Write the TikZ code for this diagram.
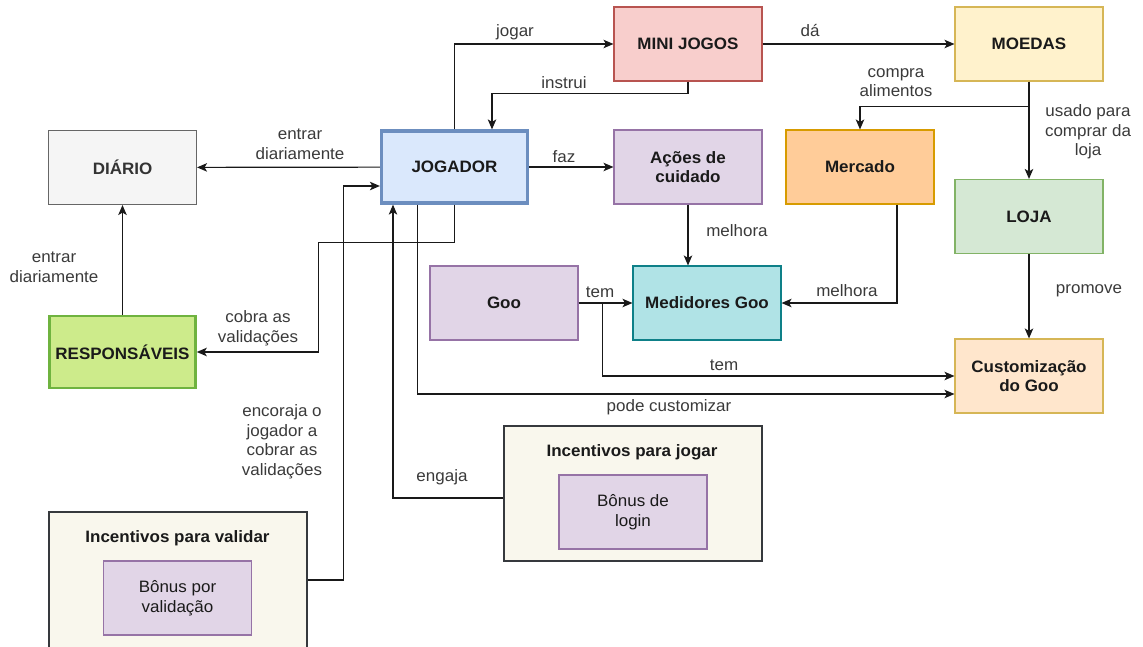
\documentclass[tikz,border=0pt]{standalone}
\usepackage{fontspec}
\setmainfont{Liberation Sans}[FakeStretch=1.03]
\usetikzlibrary{arrows.meta,calc}

\definecolor{txt}{HTML}{1A1A1A}
\definecolor{lbltxt}{HTML}{3A3A3A}
\definecolor{redf}{HTML}{F8CECC}\definecolor{redd}{HTML}{B85450}
\definecolor{yelf}{HTML}{FFF2CC}\definecolor{yeld}{HTML}{D6B656}
\definecolor{bluf}{HTML}{DAE8FC}\definecolor{blud}{HTML}{6C8EBF}
\definecolor{gryf}{HTML}{F5F5F5}\definecolor{gryd}{HTML}{666666}
\definecolor{purf}{HTML}{E1D5E7}\definecolor{purd}{HTML}{9673A6}
\definecolor{orgf}{HTML}{FFCC99}\definecolor{orgd}{HTML}{D79B00}
\definecolor{grnf}{HTML}{D5E8D4}\definecolor{grnd}{HTML}{82B366}
\definecolor{tealf}{HTML}{B0E3E6}\definecolor{teald}{HTML}{0E8088}
\definecolor{limef}{HTML}{CDEB8B}\definecolor{limed}{HTML}{6FB33F}
\definecolor{peachf}{HTML}{FFE6CC}\definecolor{peachd}{HTML}{D6B656}
\definecolor{contf}{HTML}{F9F7ED}\definecolor{contd}{HTML}{36393D}

\tikzset{
  box/.style={draw, line width=1.1pt, minimum width=148pt, minimum height=74pt,
    inner sep=0pt, align=center, text=txt,
    font=\fontsize{16.5}{19.5}\selectfont\bfseries},
  plainbox/.style={box, font=\fontsize{16.5}{19.5}\selectfont},
  container/.style={draw=contd, fill=contf, line width=1.1pt,
    minimum width=258pt, inner sep=0pt},
  ctitle/.style={inner sep=0pt, text=txt, font=\fontsize{16.5}{19.5}\selectfont\bfseries},
  lbl/.style={inner sep=0pt, align=center, text=lbltxt,
    font=\fontsize{16.5}{19.5}\selectfont},
  arr/.style={draw=black!90, line width=1.2pt,
    -{Stealth[length=10pt,width=8.5pt,inset=2.5pt]}},
}

\begin{document}
\begin{tikzpicture}[x=1pt,y=-1pt]
\path[use as bounding box] (0,0) rectangle (1143,646);
\clip (0,0) rectangle (1143,646);

% main blocks
\node[box, fill=redf, draw=redd]   (mini)   at (688,44)    {MINI JOGOS};
\node[box, fill=yelf, draw=yeld]   (moedas) at (1029,44)   {MOEDAS};
\node[box, fill=bluf, draw=blud, line width=3.2pt, minimum width=146pt, minimum height=72pt]
                                   (jog)    at (454.5,167) {JOGADOR};
\node[box, fill=gryf, draw=gryd, text=black!80] (diario) at (122.5,167.5) {DIÁRIO};
\node[box, fill=purf, draw=purd]   (acoes)  at (688,167)   {Ações de\\cuidado};
\node[box, fill=orgf, draw=orgd]   (merc)   at (860,167)   {Mercado};
\node[box, fill=grnf, draw=grnd]   (loja)   at (1029,216.5){LOJA};
\node[box, fill=purf, draw=purd]   (goo)    at (504,303)   {Goo};
\node[box, fill=tealf, draw=teald] (med)    at (707,303)   {Medidores Goo};
\node[box, fill=limef, draw=limed, line width=2.6pt, minimum width=146pt, minimum height=72pt]
                                   (resp)   at (122.5,352) {RESPONSÁVEIS};
\node[box, fill=peachf, draw=peachd] (cust) at (1029,376)  {Customização\\do Goo};

% incentive groups
\node[container, minimum height=135pt] (incj) at (633,493.5) {};
\node[ctitle] (incjt) at (632,452) {Incentivos para jogar};
\node[plainbox, fill=purf, draw=purd] (login) at (633,512) {Bônus de\\login};

\node[container, minimum height=136pt] (incv) at (178,580) {};
\node[ctitle] (incvt) at (177.5,538) {Incentivos para validar};
\node[plainbox, fill=purf, draw=purd] (bval) at (177.5,598) {Bônus por\\validação};

% connectors
\draw[arr] (jog.north) |- (mini.west);
\draw[arr] (mini.south) -- ++(0,12) -| ([xshift=37.5pt]jog.north);
\draw[arr] (mini) -- (moedas);
\draw[arr] (moedas.south) -- ++(0,25) -| (merc.north);
\draw[arr] (moedas.south) -- (moedas.south |- loja.north);
\draw[arr] (jog) -- (diario);
\draw[arr] (resp) -- (diario);
\draw[arr] (jog.south) -- ++(0,38) -| ($(resp.east)+(122,0)$) -- (resp.east);
\draw[arr] (jog) -- (acoes);
\draw[arr] (acoes.south) -- (acoes.south |- med.north);
\draw[arr] ([xshift=37pt]merc.south) |- (med.east);
\draw[arr] (goo) -- (med);
\draw[arr] (goo.east) -- ++(24,0) |- (cust.west);
\draw[arr] ([xshift=-37pt]jog.south) |- ([yshift=-18pt]cust.west);
\draw[arr] (incv.east) -- ++(36,0) |- ([yshift=-19pt]jog.west);
\draw[arr] ([yshift=-4.5pt]incj.west) -| ([xshift=-61.5pt]jog.south);
\draw[arr] (loja) -- (cust);

% connector labels
\node[lbl] (l1)  at (515,32)    {jogar};
\node[lbl] (l2)  at (564,83)    {instrui};
\node[lbl] (l3)  at (810,31)    {dá};
\node[lbl] (l4)  at (896,82.5)  {compra\\alimentos};
\node[lbl] (l5)  at (1088,132)  {usado para\\comprar da\\loja};
\node[lbl] (l6)  at (300,144)   {entrar\\diariamente};
\node[lbl] (l7)  at (54,267)    {entrar\\diariamente};
\node[lbl] (l8)  at (258,328.5) {cobra as\\validações};
\node[lbl] (l9)  at (564,157)   {faz};
\node[lbl] (l10) at (737,231)   {melhora};
\node[lbl] (l11) at (847,291)   {melhora};
\node[lbl] (l12) at (600,292)   {tem};
\node[lbl] (l13) at (724,365)   {tem};
\node[lbl] (l14) at (669,407)   {pode customizar};
\node[lbl] (l15) at (282,442)   {encoraja o\\jogador a\\cobrar as\\validações};
\node[lbl] (l16) at (442,477)   {engaja};
\node[lbl] (l17) at (1089,291)  {promove};
\end{tikzpicture}
\end{document}
